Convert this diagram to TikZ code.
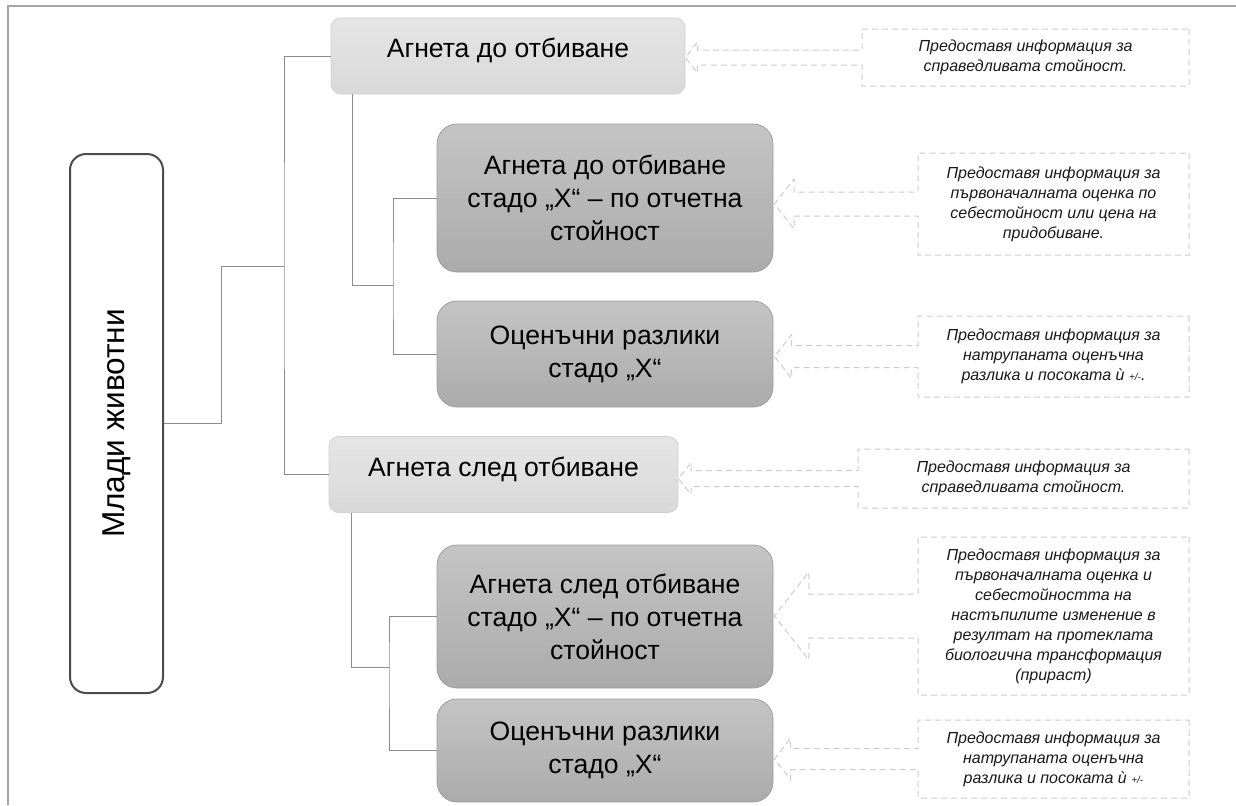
\documentclass[tikz,border=0pt]{standalone}
\usepackage{fontspec}
\setmainfont{Liberation Sans}
\usetikzlibrary{shapes.arrows}

\begin{document}
\begin{tikzpicture}[x=0.5pt,y=-0.5pt,
  link/.style={draw=black!45, line width=0.5pt},
  rootbox/.style={draw=black!70, line width=1pt, rounded corners=8pt, fill=white, minimum width=46.5pt, minimum height=269.5pt, inner sep=0pt, font=\fontsize{15.8}{18}\selectfont},
  topbox/.style={draw=black!18, line width=0.4pt, rounded corners=5pt, top color=black!10, bottom color=black!15, minimum height=38pt, inner sep=0pt, text height=9.5pt, text depth=8pt, font=\fontsize{13.3}{16.5}\selectfont},
  subbox/.style={draw=black!38, line width=0.4pt, rounded corners=10pt, top color=black!23, bottom color=black!33, minimum width=168pt, align=center, inner sep=0pt, font=\fontsize{13.3}{16.5}\selectfont},
  callout/.style={arrow box, draw=black!20, line width=0.5pt, dash pattern=on 3pt off 2pt, arrow box tip angle=104, align=center, inner sep=0pt, text=black!90, font=\itshape\fontsize{8}{10}\selectfont}]
\useasboundingbox (0,0) rectangle (1236,805);
\draw[line width=1pt, black!35] (8,805) -- (8,6) -- (1236,6);

\node[rootbox] (root) at (116.5,423.5) {\rotatebox{90}{Млади животни}};
\node[topbox, minimum width=177pt] (n1) at (508,56) {Агнета до отбиване};
\node[subbox, minimum height=74pt] (n1a) at (605,198) {Агнета до отбиване\\стадо „Х“ – по отчетна\\стойност};
\node[subbox, minimum height=53pt] (n1b) at (605,354) {Оценъчни разлики\\стадо „Х“};
\node[topbox, minimum width=174.5pt] (n2) at (503.5,474.5) {Агнета след отбиване};
\node[subbox, minimum height=71.5pt] (n2a) at (605,616.5) {Агнета след отбиване\\стадо „Х“ – по отчетна\\стойност};
\node[subbox, minimum height=51.5pt] (n2b) at (605,750.5) {Оценъчни разлики\\стадо „Х“};

\node[callout, minimum width=163.5pt, minimum height=28.5pt, arrow box arrows={west:88pt}, arrow box shaft width=7.5pt, arrow box head extend=4pt] (c1) at (1025.5,57.5) {Предоставя информация за\\справедливата стойност.};
\node[callout, minimum width=135.5pt, minimum height=51pt, arrow box arrows={west:71.5pt}, arrow box shaft width=12pt, arrow box head extend=6.5pt] (c1a) at (1053.5,204) {Предоставя информация за\\първоначалната оценка по\\себестойност или цена на\\придобиване.};
\node[callout, minimum width=135.5pt, minimum height=40.5pt, arrow box arrows={west:71.5pt}, arrow box shaft width=11pt, arrow box head extend=5.5pt] (c1b) at (1053.5,356.5) {Предоставя информация за\\натрупаната оценъчна\\разлика и посоката ѝ {\tiny +/-}.};
\node[callout, minimum width=165.5pt, minimum height=29.5pt, arrow box arrows={west:89.5pt}, arrow box shaft width=8pt, arrow box head extend=4pt] (c2) at (1023.5,478.5) {Предоставя информация за\\справедливата стойност.};
\node[callout, minimum width=135.5pt, minimum height=79pt, arrow box arrows={west:71.5pt}, arrow box shaft width=22pt, arrow box head extend=11pt] (c2a) at (1053.5,616) {Предоставя информация за\\първоначалната оценка и\\себестойността на\\настъпилите изменение в\\резултат на протеклата\\биологична трансформация\\(прираст)};
\node[callout, minimum width=135.5pt, minimum height=39pt, arrow box arrows={west:71.5pt}, arrow box shaft width=10.5pt, arrow box head extend=5pt] (c2b) at (1053.5,759) {Предоставя информация за\\натрупаната оценъчна\\разлика и посоката ѝ {\tiny +/-}};

\coordinate (rbend) at (221,266);
\coordinate (hub) at (284,266);
\coordinate (drop1) at (352,285);
\coordinate (hubA) at (393,285);
\coordinate (drop2) at (351,667);
\coordinate (hubB) at (389,667);
\draw[link] (root.east) -| (rbend) -- (hub);
\draw[link] (n1.west) -| (hub) |- (n2.west);
\draw[link] (n1.south -| drop1) -- (drop1) -- (hubA);
\draw[link] (n1a.west) -| (hubA) |- (n1b.west);
\draw[link] (n2.south -| drop2) -- (drop2) -- (hubB);
\draw[link] (n2a.west) -| (hubB) |- (n2b.west);
\end{tikzpicture}
\end{document}
